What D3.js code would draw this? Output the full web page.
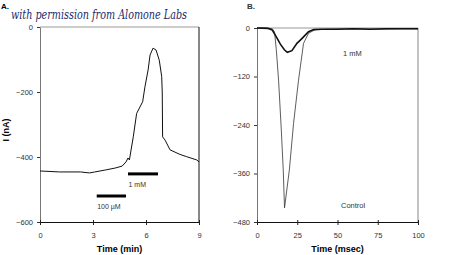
<!DOCTYPE html>
<html>
<head>
<meta charset="utf-8">
<script src="https://cdn.jsdelivr.net/npm/d3@7"></script>
<style>
  body { margin: 0; background: #fff; }
  svg { display: block; font-family: "Liberation Sans", Arial, sans-serif; }
</style>
</head>
<body>
<svg width="450" height="255"></svg>
<script>
// panel A: current vs time (min)
var timeA = [0, 1.1, 2.3, 2.8, 3.1, 3.7, 4.25, 4.65, 4.87, 4.98, 5.06, 5.28, 5.47, 5.81, 5.94, 6.12, 6.23, 6.4, 6.57, 6.75, 6.89, 6.92, 6.94, 7.08, 7.36, 7.92, 8.3, 8.87, 9];
var currentA = [-443, -446, -446, -449, -446, -440, -434, -428, -415, -403, -409, -338, -266, -230, -184, -132, -86, -65, -71, -102, -153, -203, -338, -348, -378, -392, -399, -409, -415];
var xTicksA = [0, 3, 6, 9];
var yTicksA = [0, -200, -400, -600];
var barsA = [
  { label: "1 mM", t0: 4.98, t1: 6.68, level: -452 },
  { label: "100 \u00b5M", t0: 3.21, t1: 4.87, level: -520 }
];

// panel B: current vs time (msec)
var timeControl = [0, 5, 9.5, 10.9, 12, 13.4, 15.1, 16.3, 17.1, 20.1, 22.7, 25.8, 28.9, 32, 36.2, 45, 60, 75, 90, 100];
var currentControl = [0, 0, -2, -10, -54, -129, -252, -351, -445, -351, -236, -129, -38, -13, -4, -3, -2, -3, -2, -2];
var time1mM = [0, 7, 9.5, 12, 14.5, 17, 18.8, 21.7, 24.8, 26.9, 28.9, 32, 35.2, 40, 50, 60, 70, 80, 90, 100];
var current1mM = [0, -1, -5, -22, -40, -54, -60, -56, -38, -30, -22, -9, -4, -3, -3, -2, -3, -2, -2, -2];
var xTicksB = [0, 25, 50, 75, 100];
var yTicksB = [0, -120, -240, -360, -480];

var svg = d3.select("svg");

function panel(opt) {
  var x = d3.scaleLinear().domain(opt.xDomain).range([opt.left, opt.right]);
  var y = d3.scaleLinear().domain(opt.yDomain).range([opt.bottom, opt.top]);

  // frame: top and right
  svg.append("line").attr("x1", opt.left).attr("x2", opt.right)
    .attr("y1", opt.top).attr("y2", opt.top)
    .attr("stroke", "#999").attr("stroke-width", 1);
  svg.append("line").attr("x1", opt.right).attr("x2", opt.right)
    .attr("y1", opt.top).attr("y2", opt.bottom)
    .attr("stroke", opt.rightColor).attr("stroke-width", 1);

  var yAxis = d3.axisLeft(y).tickValues(opt.yTicks).tickSize(3).tickSizeOuter(0).tickPadding(4);
  var gy = svg.append("g").attr("transform", "translate(" + opt.left + ",0)").call(yAxis);
  gy.select(".domain").attr("stroke", "#777");
  gy.selectAll(".tick line").attr("stroke", "#333");
  gy.selectAll("text").attr("font-size", 7.5).attr("fill", "#333");

  var xAxis = d3.axisBottom(x).tickValues(opt.xTicks).tickSize(3).tickSizeOuter(0).tickPadding(8);
  var gx = svg.append("g").attr("transform", "translate(0," + opt.bottom + ")").call(xAxis);
  gx.select(".domain").attr("stroke", "#111");
  gx.selectAll(".tick line").attr("y1", -2).attr("stroke", "#222");
  gx.selectAll("text").attr("font-size", 7.5).attr("fill", "#333");

  svg.append("text").attr("x", (opt.left + opt.right) / 2).attr("y", 252)
    .attr("text-anchor", "middle").attr("font-size", 9).attr("font-weight", "bold")
    .text(opt.xLabel);

  return { x: x, y: y };
}

var A = panel({
  left: 40, right: 199, top: 27, bottom: 222,
  xDomain: [0, 9], yDomain: [-600, 0],
  xTicks: xTicksA, yTicks: yTicksA,
  rightColor: "#111", xLabel: "Time (min)"
});

var B = panel({
  left: 257, right: 418, top: 28, bottom: 222,
  xDomain: [0, 100], yDomain: [-480, 0],
  xTicks: xTicksB, yTicks: yTicksB,
  rightColor: "#888", xLabel: "Time (msec)"
});

var lineA = d3.line().x(function(d) { return A.x(d[0]); }).y(function(d) { return A.y(d[1]); });
svg.append("path").datum(d3.zip(timeA, currentA))
  .attr("d", lineA).attr("fill", "none").attr("stroke", "#111").attr("stroke-width", 1);

svg.selectAll(".bar").data(barsA).enter().append("line")
  .attr("x1", function(d) { return A.x(d.t0); })
  .attr("x2", function(d) { return A.x(d.t1); })
  .attr("y1", function(d) { return A.y(d.level); })
  .attr("y2", function(d) { return A.y(d.level); })
  .attr("stroke", "#000").attr("stroke-width", 3);
svg.selectAll(".barLabel").data(barsA).enter().append("text")
  .attr("x", function(d) { return A.x(d.t0) + 0.5; })
  .attr("y", function(d) { return A.y(d.level) + 13; })
  .attr("font-size", 7).attr("fill", "#333")
  .text(function(d) { return d.label; });

svg.append("text").attr("x", 9).attr("y", 130).attr("transform", "rotate(-90,9,130)")
  .attr("text-anchor", "middle").attr("font-size", 9).attr("font-weight", "bold")
  .text("I (nA)");

var lineB = d3.line().x(function(d) { return B.x(d[0]); }).y(function(d) { return B.y(d[1]); });
svg.append("path").datum(d3.zip(timeControl, currentControl))
  .attr("d", lineB).attr("fill", "none").attr("stroke", "#333").attr("stroke-width", 0.8);
svg.append("path").datum(d3.zip(time1mM, current1mM))
  .attr("d", lineB).attr("fill", "none").attr("stroke", "#111").attr("stroke-width", 1.6);

svg.append("text").attr("x", 343).attr("y", 56).attr("font-size", 7.5).attr("fill", "#333").text("1 mM");
svg.append("text").attr("x", 341).attr("y", 208).attr("font-size", 7.5).attr("fill", "#333").text("Control");

// panel letters and credit
svg.append("text").attr("x", 1).attr("y", 9).attr("font-size", 8).attr("font-weight", "bold").text("A.");
svg.append("text").attr("x", 247).attr("y", 9).attr("font-size", 8).attr("font-weight", "bold").attr("fill", "#333").text("B.");
svg.append("text").attr("x", 11).attr("y", 19)
  .attr("font-family", "'DejaVu Serif', serif").attr("font-style", "italic")
  .attr("font-size", 12).attr("fill", "#1b2a6b")
  .attr("textLength", 176).attr("lengthAdjust", "spacingAndGlyphs")
  .text("with permission from Alomone Labs");
</script>
</body>
</html>
